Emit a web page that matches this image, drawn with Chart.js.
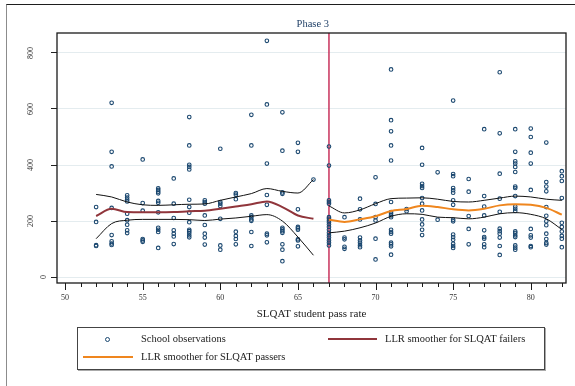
<!DOCTYPE html>
<html>
<head>
<meta charset="utf-8">
<script src="https://cdn.jsdelivr.net/npm/chart.js@4.4.1/dist/chart.umd.min.js"></script>
<style>
  body { margin: 0; background: #fff; }
  #wrap { position: relative; width: 575px; height: 386px; overflow: hidden; }
  #frame { position: absolute; left: 6px; top: 4px; width: 600px; height: 400px;
           border-top: 1px solid #1e1e1e; border-left: 1px solid #8c8c8c; }
  #c { position: absolute; left: 0; top: 0; }
  #legend { position: absolute; left: 77px; top: 327px; width: 466px; height: 41px;
            border: 1px solid #444; box-shadow: 1px 1px 0 #aaa;
            font-family: "Liberation Serif", serif; font-size: 10.5px; color: #222; }
  #legend .t { position: absolute; line-height: 12px; white-space: nowrap; }
  #legend .ln { position: absolute; height: 2px; }
  #legend .dot { position: absolute; width: 3px; height: 3px; border: 1.1px solid #1a476f; border-radius: 50%; }
</style>
</head>
<body>
<div id="wrap">
  <div id="frame"></div>
  <canvas id="c" width="575" height="386"></canvas>
  <div id="legend">
    <span class="dot" style="left:27px; top:9px;"></span>
    <span class="t" style="left:63px; top:5px;">School observations</span>
    <span class="ln" style="left:250px; top:10px; width:49px; background:#90353b;"></span>
    <span class="t" style="left:307px; top:5px;">LLR smoother for SLQAT failers</span>
    <span class="ln" style="left:5px; top:28px; width:50px; background:#ef861e;"></span>
    <span class="t" style="left:63px; top:23px;">LLR smoother for SLQAT passers</span>
  </div>
</div>
<script>
// observations: one column of values per pass rate
var obsRates = [52, 53, 54, 55, 56, 57, 58, 59, 60, 61, 62, 63, 64, 65, 66,
                67, 68, 69, 70, 71, 72, 73, 74, 75, 76, 77, 78, 79, 80, 81, 82];
var obsValues = [
  [250, 197, 114, 111],
  [622, 447, 395, 247, 150, 128, 120, 115],
  [292, 284, 277, 270, 226, 203, 187, 167, 157],
  [420, 264, 237, 136, 131, 126],
  [317, 311, 305, 299, 272, 265, 231, 176, 169, 161, 104],
  [352, 262, 211, 167, 155, 145, 118],
  [571, 470, 401, 393, 384, 276, 250, 230, 196, 169, 164, 157, 149, 142],
  [274, 268, 262, 220, 186, 155, 141, 116],
  [458, 268, 262, 254, 208, 113, 98],
  [300, 294, 278, 162, 147, 136, 117],
  [579, 470, 220, 214, 206, 201, 161, 111],
  [843, 616, 405, 293, 258, 155, 149, 124],
  [588, 451, 302, 297, 176, 170, 164, 158, 117, 98, 57],
  [479, 447, 242, 179, 174, 169, 135, 131, 110],
  [348],
  [466, 398, 274, 268, 262, 214, 208, 202, 196, 188, 179, 169, 158, 149, 141, 131, 123, 113],
  [214, 141, 135, 108, 101],
  [280, 242, 206, 141, 131, 123, 114, 107],
  [356, 261, 214, 202, 137, 63],
  [741, 560, 520, 470, 416, 268, 232, 226, 220, 214, 169, 161, 155, 123, 117, 110, 80],
  [243, 235],
  [461, 401, 333, 325, 318, 282, 262, 238, 206, 188, 169, 150],
  [374, 205],
  [630, 368, 360, 318, 310, 301, 274, 258, 205, 199, 152, 143, 133, 119, 111, 104],
  [350, 305, 218, 172, 117],
  [528, 289, 252, 220, 167, 143, 137, 117, 107],
  [731, 513, 369, 280, 233, 173, 164, 155, 141, 111, 79],
  [528, 447, 413, 405, 393, 375, 323, 318, 289, 252, 244, 236, 163, 157, 149, 143, 113, 105, 98],
  [530, 500, 444, 405, 311, 172, 149, 141, 111, 107],
  [480, 339, 323, 306, 250, 219, 199, 185, 155, 136, 122, 116],
  [378, 360, 343, 282, 194, 179, 163, 147, 137, 107]
];

// LLR smoothers with confidence bands
var failX     = [52, 53, 54, 55, 56, 57, 58, 59, 60, 61, 62, 63, 64, 65, 66];
var failFit   = [218, 244, 232, 231, 231, 232, 235, 237, 244, 252, 260, 270, 250, 220, 208];
var failUpper = [295, 286, 268, 258, 256, 258, 260, 261, 274, 286, 298, 316, 306, 300, 348];
var failLower = [137, 191, 203, 206, 206, 206, 205, 202, 207, 211, 217, 223, 200, 143, 78];

var passX     = [67, 68, 69, 70, 71, 72, 73, 74, 75, 76, 77, 78, 79, 80, 81, 82];
var passFit   = [205, 197, 206, 217, 236, 243, 255, 250, 242, 238, 244, 256, 260, 258, 247, 223];
var passUpper = [254, 229, 240, 262, 280, 282, 283, 278, 270, 268, 274, 282, 289, 286, 278, 274];
var passLower = [158, 164, 176, 193, 217, 226, 224, 214, 212, 208, 214, 226, 230, 224, 208, 170];

var xLabels = [50, 55, 60, 65, 70, 75, 80];
var yLabels = [0, 200, 400, 600, 800];
var phaseCut = 67;

var pts = [];
obsRates.forEach(function (r, i) {
  obsValues[i].forEach(function (v) { pts.push({x: r, y: v}); });
});
function xy(xs, ys) { return xs.map(function (x, i) { return {x: x, y: ys[i]}; }); }

function curve(data, color, width, order) {
  return {
    data: data, showLine: true, borderColor: color, borderWidth: width,
    pointRadius: 0, cubicInterpolationMode: 'monotone', fill: false, order: order
  };
}

var serif = 'Liberation Serif';

var extras = {
  id: 'extras',
  beforeDatasetsDraw: function (chart) {
    var ctx = chart.ctx, a = chart.chartArea, px = chart.scales.x.getPixelForValue(phaseCut);
    ctx.save();
    ctx.strokeStyle = '#c8325c';
    ctx.lineWidth = 1.5;
    ctx.beginPath();
    ctx.moveTo(px, a.top);
    ctx.lineTo(px, a.bottom);
    ctx.stroke();
    ctx.restore();
  },
  afterDraw: function (chart) {
    var ctx = chart.ctx, a = chart.chartArea, xs = chart.scales.x, ys = chart.scales.y;
    ctx.save();
    // plot box
    ctx.strokeStyle = '#1a1a1a';
    ctx.lineWidth = 1.3;
    ctx.strokeRect(a.left, a.top, a.right - a.left, a.bottom - a.top);
    // x ticks, major every 5
    ctx.lineWidth = 1;
    ctx.beginPath();
    for (var v = 50; v <= 82; v++) {
      var p = Math.round(xs.getPixelForValue(v)) + 0.5;
      ctx.moveTo(p, a.bottom);
      ctx.lineTo(p, a.bottom + (v % 5 === 0 ? 7 : 4));
    }
    ctx.stroke();
    // rotated y labels
    ctx.font = '8px "' + serif + '"';
    ctx.fillStyle = '#333';
    ctx.textAlign = 'center';
    ctx.textBaseline = 'middle';
    yLabels.forEach(function (v) {
      var s = String(v), w = ctx.measureText(s).width;
      ctx.save();
      ctx.translate(a.left - 6.5 - 1.6 * w, ys.getPixelForValue(v));
      ctx.rotate(-Math.PI / 2);
      ctx.fillText(s, 0, 0);
      ctx.restore();
    });
    // phase label
    ctx.font = '10.5px "' + serif + '"';
    ctx.fillStyle = '#1f3f66';
    ctx.textAlign = 'right';
    ctx.fillText('Phase 3', xs.getPixelForValue(phaseCut), 24);
    ctx.restore();
  }
};

new Chart(document.getElementById('c'), {
  type: 'scatter',
  data: {
    datasets: [
      {data: pts, pointStyle: 'circle', pointRadius: 1.8, borderWidth: 1.1,
       borderColor: '#1a476f', backgroundColor: 'rgba(0,0,0,0)', order: 5},
      curve(xy(failX, failUpper), '#111', 1, 2),
      curve(xy(failX, failLower), '#111', 1, 2),
      curve(xy(passX, passUpper), '#111', 1, 2),
      curve(xy(passX, passLower), '#111', 1, 2),
      curve(xy(failX, failFit), '#90353b', 2, 1),
      curve(xy(passX, passFit), '#ef861e', 2, 1)
    ]
  },
  options: {
    responsive: false,
    animation: false,
    devicePixelRatio: 1,
    layout: {padding: {left: 0, top: 33, right: 9, bottom: 0}},
    plugins: {legend: {display: false}, tooltip: {enabled: false}},
    events: [],
    scales: {
      x: {
        type: 'linear', min: 49.48, max: 82.27,
        afterBuildTicks: function (s) { s.ticks = xLabels.map(function (v) { return {value: v}; }); },
        afterFit: function (s) { s.height = 103; },
        ticks: {font: {family: serif, size: 8}, color: '#333', padding: 10, maxRotation: 0},
        grid: {display: false, drawTicks: false},
        border: {display: false},
        title: {display: true, text: 'SLQAT student pass rate', color: '#222',
                font: {family: serif, size: 11}, padding: {top: 4, bottom: 65}}
      },
      y: {
        type: 'linear', min: -21, max: 871,
        afterBuildTicks: function (s) { s.ticks = yLabels.map(function (v) { return {value: v}; }); },
        afterFit: function (s) { s.width = 57; },
        ticks: {display: false},
        grid: {color: '#e4ecef', lineWidth: 1, tickLength: 6, tickColor: '#222', drawTicks: true},
        border: {display: false}
      }
    }
  },
  plugins: [extras]
});
</script>
</body>
</html>
